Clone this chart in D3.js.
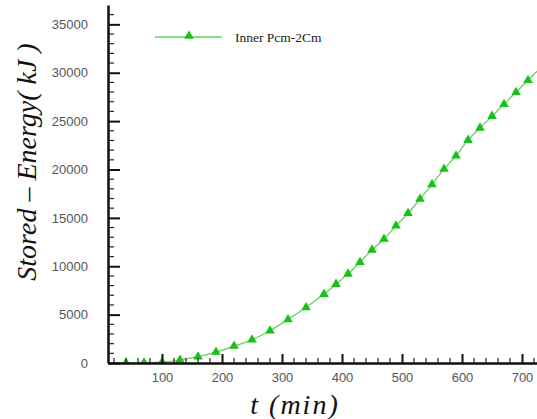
<!DOCTYPE html>
<html>
<head>
<meta charset="utf-8">
<script src="https://cdn.jsdelivr.net/npm/d3@7"></script>
<style>
  body { margin: 0; background: #fff; }
  svg { display: block; }
</style>
</head>
<body>
<script>
const LINE_COLOR = "#5fd35f"
const MARK_COLOR = "#19c019"

// time (min) and stored energy (kJ)
const timeMin = [10, 40, 70, 100, 130, 160, 190, 220, 250, 280, 310, 340, 370, 390, 410, 430, 450, 470, 490, 510,
    530, 550, 570, 590, 610, 630, 650, 670, 690, 710, 730]
const energyKJ = [0, 10, 30, 80, 300, 650, 1130, 1750, 2400, 3330, 4500, 5735, 7120, 8150, 9210, 10420, 11690, 12820, 14190, 15470,
    16950, 18460, 20040, 21420, 23030, 24300, 25510, 26750, 27990, 29220, 30450]
const xTicks = [100, 200, 300, 400, 500, 600, 700]
const yTicks = [0, 5000, 10000, 15000, 20000, 25000, 30000, 35000]
const seriesName = "Inner Pcm-2Cm"

let width = 537, height = 419;
let m = { left: 108, top: 5, right: 537, bottom: 363 };

let svg = d3.select("body").append("svg").attr("width", width).attr("height", height);

let x = d3.scaleLinear().domain([10, 725]).range([m.left, m.right]);
let y = d3.scaleLinear().domain([0, 37000]).range([m.bottom, m.top]);

svg.append("defs").append("clipPath").attr("id", "plot")
    .append("rect").attr("x", m.left).attr("y", m.top).attr("width", m.right - m.left).attr("height", m.bottom - m.top);

let pts = timeMin.map((t, i) => ({ t: t, e: energyKJ[i] }));

let line = d3.line().x(d => x(d.t)).y(d => y(d.e)).curve(d3.curveMonotoneX);

let plot = svg.append("g").attr("clip-path", "url(#plot)");
plot.append("path").datum(pts).attr("d", line)
    .attr("fill", "none").attr("stroke", LINE_COLOR).attr("stroke-width", 1.3);

let tri = d3.symbol().type(d3.symbolTriangle).size(40);
plot.selectAll(".mk").data(pts.filter(d => d.t >= 30 && d.t <= 715)).join("path")
    .attr("class", "mk")
    .attr("d", tri)
    .attr("transform", d => `translate(${x(d.t)},${y(d.e)})`)
    .attr("fill", MARK_COLOR);

// axes, ticks pointing inward
let xAxis = d3.axisBottom(x).tickValues(xTicks).tickSize(-9).tickPadding(10).tickSizeOuter(0);
let gx = svg.append("g").attr("transform", `translate(0,${m.bottom})`).call(xAxis);
gx.selectAll(".tick text").attr("dy", "0.71em");
let xMinor = d3.range(20, 725, 20).filter(v => v % 100 != 0);
svg.append("g").selectAll("line").data(xMinor).join("line")
    .attr("x1", d => x(d)).attr("x2", d => x(d))
    .attr("y1", m.bottom).attr("y2", m.bottom - 5)
    .attr("stroke", "#222").attr("stroke-width", 1.2);

let yAxis = d3.axisLeft(y).tickValues(yTicks).tickSize(-12).tickPadding(20).tickSizeOuter(0).tickFormat(d3.format("d"));
let gy = svg.append("g").attr("transform", `translate(${m.left},0)`).call(yAxis);
let yMinor = d3.range(1000, 37000, 1000).filter(v => v % 5000 != 0);
svg.append("g").selectAll("line").data(yMinor).join("line")
    .attr("x1", m.left).attr("x2", m.left + 6)
    .attr("y1", d => y(d)).attr("y2", d => y(d))
    .attr("stroke", "#222").attr("stroke-width", 1.2);

[gx, gy].forEach(g => {
    g.select(".domain").attr("stroke", "#111").attr("stroke-width", 2.5);
    g.selectAll(".tick line").attr("stroke", "#111").attr("stroke-width", 2);
    g.selectAll(".tick text").attr("font-family", "Liberation Sans, Arial, sans-serif")
        .attr("font-size", 13).attr("fill", "#555");
});

// titles
svg.append("text")
    .attr("transform", `translate(36,162) rotate(-90)`)
    .attr("text-anchor", "middle")
    .attr("font-family", "Liberation Serif, Times New Roman, serif").attr("font-style", "italic")
    .attr("font-size", 28).attr("fill", "#111")
    .text("Stored \u2013 Energy( kJ )");

svg.append("text")
    .attr("x", 295).attr("y", 414)
    .attr("text-anchor", "middle")
    .attr("font-family", "Liberation Serif, Times New Roman, serif").attr("font-style", "italic")
    .attr("font-size", 28).attr("letter-spacing", 2).attr("fill", "#111")
    .text("t (min)");

// legend
let lg = svg.append("g");
lg.append("line").attr("x1", 155).attr("x2", 222).attr("y1", 37).attr("y2", 37)
    .attr("stroke", LINE_COLOR).attr("stroke-width", 1.3);
lg.append("path").attr("d", tri).attr("transform", "translate(189,36)").attr("fill", MARK_COLOR);
lg.append("text").attr("x", 235).attr("y", 42)
    .attr("font-family", "Liberation Serif, Times New Roman, serif").attr("font-size", 13.5).attr("fill", "#222")
    .text(seriesName);
</script>
</body>
</html>
